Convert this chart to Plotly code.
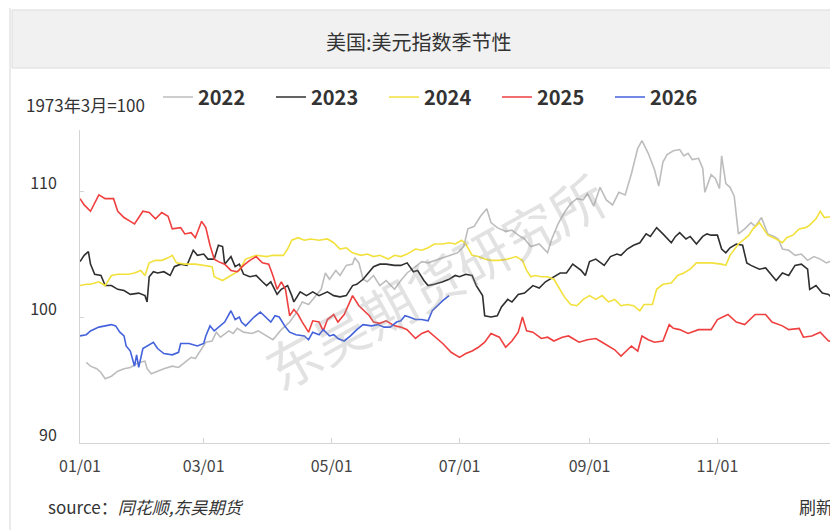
import plotly.graph_objects as go
import pandas as pd

# ---------------- data (day offset from Jan 1, index value) ----------------
years = ["2022", "2023", "2024", "2025", "2026"]
colors = ["#bdbdbd", "#2f2f2f", "#f2e13c", "#ef3f3f", "#4462dc"]

days_2022 = [3, 5, 8, 10, 12, 15, 18, 21, 24, 28, 31, 32, 34, 37, 40, 44, 47, 50, 53, 55, 58, 60, 63, 65, 67, 71, 73,
             75, 78, 82, 85, 88, 92, 94, 96, 98, 100, 103, 106, 109, 112, 115, 117, 119, 122, 124, 127, 130, 131, 133,
             135, 137, 140, 143, 146, 150, 153, 156, 160, 163, 166, 171, 176, 180, 183, 185, 188, 191, 194, 196, 199,
             203, 206, 209, 212, 215, 219, 223, 225, 228, 231, 234, 237, 240, 242, 245, 248, 251, 254, 257, 260, 263,
             266, 268, 271, 274, 276, 278, 280, 283, 286, 288, 290, 292, 295, 297, 298, 301, 303, 305, 306, 308, 310,
             312, 314, 317, 320, 322, 325, 328, 331, 333, 335, 338, 341, 344, 347, 350, 353, 356, 359, 363]
vals_2022 = [96.4, 96.1, 95.9, 95.6, 95.1, 95.3, 95.7, 95.9, 96.0, 96.4, 96.5, 95.9, 95.5, 95.7, 95.9, 96.1, 96.0, 96.4,
             96.8, 96.7, 97.5, 98.0, 98.1, 98.8, 98.4, 98.9, 98.7, 99.1, 98.8, 98.7, 98.9, 98.6, 98.2, 98.6, 99.0, 99.3,
             99.6, 100.3, 101.2, 101.0, 101.6, 102.2, 103.5, 103.0, 103.7, 103.3, 104.1, 104.2, 104.7, 104.3, 103.0,
             102.8, 103.3, 102.5, 102.9, 102.2, 102.9, 103.5, 104.0, 104.4, 104.3, 104.6, 104.9, 105.1, 105.6, 107.0,
             107.2, 108.0, 108.6, 107.5, 107.1, 106.8, 106.9, 106.5, 106.2, 105.6, 105.8, 105.1, 106.2, 107.4, 108.3,
             109.0, 109.4, 109.3, 109.8, 108.8, 110.3, 109.3, 108.9, 109.9, 109.7, 111.4, 113.4, 114.0, 113.0, 111.7,
             110.4, 112.3, 112.9, 113.2, 113.3, 112.8, 113.0, 112.5, 112.6, 111.8, 109.9, 111.3, 111.0, 110.2, 112.8,
             110.6, 110.3, 109.6, 106.6, 107.0, 107.5, 107.2, 107.9, 106.6, 106.4, 106.2, 105.4, 105.3, 104.9, 105.0,
             104.5, 104.8, 104.6, 104.3, 104.5, 104.4]

days_2023 = [0, 2, 4, 5, 7, 10, 12, 15, 18, 21, 24, 28, 31, 32, 33, 35, 37, 40, 43, 45, 48, 51, 54, 56, 59, 61, 64, 66,
             68, 69, 72, 74, 76, 78, 81, 84, 87, 89, 91, 94, 96, 99, 101, 102, 105, 108, 111, 114, 118, 121, 124, 127,
             130, 132, 135, 138, 140, 143, 146, 150, 153, 156, 159, 161, 164, 166, 169, 173, 176, 179, 181, 184, 187,
             189, 192, 193, 196, 199, 201, 204, 206, 209, 212, 216, 219, 222, 226, 229, 232, 235, 239, 241, 243, 246,
             250, 253, 256, 258, 261, 264, 267, 270, 272, 275, 278, 282, 284, 286, 289, 291, 294, 297, 299, 301, 304,
             306, 308, 310, 313, 316, 318, 320, 324, 327, 330, 332, 335, 338, 341, 344, 347, 348, 351, 354, 357, 360, 363]
vals_2023 = [104.4, 104.9, 105.2, 104.2, 103.4, 103.3, 102.5, 102.5, 102.2, 102.1, 101.8, 101.9, 101.7, 101.2, 103.2,
             103.6, 103.5, 103.6, 103.3, 104.0, 104.2, 104.1, 105.3, 104.9, 105.0, 104.6, 104.6, 105.7, 105.6, 104.2,
             104.8, 104.0, 104.2, 103.4, 103.2, 103.3, 102.8, 102.5, 102.8, 101.8, 102.2, 102.5, 101.7, 101.2, 102.0,
             101.7, 102.0, 101.7, 102.0, 101.7, 101.6, 101.7, 102.5, 102.6, 103.0, 103.6, 104.0, 104.2, 104.2, 104.1,
             104.1, 104.3, 103.6, 103.7, 102.9, 102.5, 102.6, 102.8, 103.0, 103.3, 103.2, 103.4, 103.3, 102.5, 101.7,
             100.1, 100.0, 100.1, 100.8, 101.4, 101.2, 101.8, 101.9, 102.5, 102.3, 102.8, 103.2, 103.5, 103.5, 104.2,
             103.7, 103.3, 104.4, 104.6, 104.1, 104.8, 105.0, 104.9, 105.4, 105.7, 105.9, 106.6, 106.4, 107.1, 106.6,
             105.9, 106.4, 106.7, 106.2, 106.4, 105.8, 106.4, 106.6, 106.5, 106.5, 105.4, 105.1, 105.5, 105.8, 105.7,
             104.3, 104.1, 103.8, 103.9, 103.3, 102.9, 103.5, 103.3, 104.1, 104.2, 103.8, 102.2, 102.5, 101.9, 101.8,
             101.3, 101.6]

days_2024 = [0, 3, 5, 9, 12, 15, 18, 23, 26, 29, 31, 33, 36, 39, 42, 44, 46, 50, 55, 60, 63, 64, 68, 71, 74, 76, 79,
             84, 89, 92, 97, 99, 101, 104, 107, 110, 114, 118, 121, 124, 127, 130, 134, 137, 140, 143, 147, 150, 153,
             156, 160, 163, 166, 169, 173, 176, 179, 182, 184, 187, 190, 193, 196, 200, 204, 208, 211, 213, 215, 217,
             220, 223, 226, 228, 231, 234, 237, 240, 243, 246, 249, 252, 255, 258, 261, 264, 267, 269, 273, 275, 278,
             282, 285, 288, 291, 294, 297, 301, 306, 308, 310, 312, 314, 317, 319, 321, 324, 326, 328, 332, 335, 337,
             340, 343, 346, 348, 351, 353, 355, 359, 363]
vals_2024 = [102.5, 102.6, 102.6, 102.8, 102.5, 103.3, 103.4, 103.4, 103.5, 103.7, 103.3, 104.3, 104.5, 104.5, 104.7,
             104.9, 104.3, 104.2, 104.2, 104.1, 104.0, 103.2, 102.9, 103.2, 103.5, 103.7, 104.6, 104.9, 104.8, 104.9,
             104.9, 105.4, 106.1, 106.3, 106.1, 106.2, 106.1, 106.2, 105.9, 105.4, 105.5, 105.1, 104.9, 105.0, 104.8,
             104.9, 104.6, 104.9, 104.8, 105.0, 105.4, 105.3, 105.5, 105.8, 105.8, 105.9, 105.8, 106.1, 105.8, 104.9,
             104.8, 104.6, 104.5, 104.5, 104.6, 104.8, 104.5, 103.7, 103.2, 103.3, 103.2, 103.2, 103.0, 102.4, 101.6,
             101.0, 100.9, 101.4, 101.7, 101.4, 101.7, 101.2, 101.4, 100.9, 101.0, 100.9, 100.5, 101.0, 101.0, 102.2,
             102.6, 102.7, 103.3, 103.5, 103.8, 104.3, 104.3, 104.3, 104.2, 104.1, 104.9, 105.4, 105.8, 106.2, 106.5,
             107.0, 107.5, 107.0, 106.5, 106.2, 105.9, 106.3, 106.5, 107.0, 107.1, 107.3, 107.8, 108.4, 107.9, 108.0,
             107.9]

days_2025 = [0, 2, 5, 9, 12, 16, 18, 21, 24, 26, 30, 33, 36, 39, 42, 44, 48, 50, 53, 55, 58, 60, 62, 64, 66, 69, 72,
             75, 78, 81, 84, 87, 90, 92, 94, 96, 98, 100, 102, 104, 106, 109, 111, 114, 116, 118, 121, 123, 126, 128,
             130, 133, 135, 138, 140, 143, 146, 150, 153, 156, 160, 163, 166, 169, 173, 177, 181, 184, 187, 190, 193,
             196, 200, 203, 206, 209, 211, 213, 216, 220, 223, 226, 230, 233, 238, 242, 246, 249, 252, 255, 258, 261,
             263, 266, 268, 271, 274, 278, 281, 283, 286, 290, 295, 301, 304, 309, 313, 317, 322, 327, 330, 335, 338,
             343, 345, 349, 353, 357, 363]
vals_2025 = [109.4, 108.9, 108.4, 109.7, 109.4, 109.4, 108.4, 107.9, 107.6, 107.4, 108.4, 108.3, 107.8, 108.3, 108.0,
             107.0, 107.1, 106.6, 106.7, 106.3, 107.6, 107.1, 105.7, 104.6, 104.4, 104.2, 103.7, 103.6, 104.1, 104.5,
             104.8, 104.3, 104.2, 103.3, 102.2, 102.8, 102.2, 100.1, 100.6, 100.2, 99.6, 98.8, 99.7, 99.6, 98.9, 99.8,
             100.2, 99.6, 100.2, 101.0, 101.7, 100.9, 100.6, 100.1, 99.6, 99.5, 99.7, 99.3, 99.2, 99.0, 98.3, 98.7,
             98.9, 98.5, 97.9, 97.2, 96.8, 97.1, 97.3, 97.6, 98.0, 98.7, 98.4, 97.6, 98.1, 98.8, 100.0, 98.9, 98.8,
             98.3, 98.4, 98.1, 98.4, 98.5, 98.0, 98.2, 98.3, 98.0, 97.7, 97.4, 96.9, 97.4, 97.7, 97.3, 98.5, 98.2,
             98.0, 98.1, 99.4, 99.1, 99.0, 98.7, 99.0, 99.0, 99.8, 100.2, 99.6, 99.4, 100.2, 100.2, 99.6, 99.3, 99.0,
             99.1, 98.4, 98.5, 98.8, 98.1, 98.1]

days_2026 = [0, 3, 5, 9, 12, 15, 17, 19, 21, 22, 24, 26, 27, 28, 30, 32, 35, 37, 40, 44, 47, 48, 52, 56, 59, 60, 62,
             64, 67, 69, 72, 74, 76, 77, 79, 83, 86, 88, 91, 93, 95, 98, 100, 103, 107, 109, 111, 114, 116, 119, 121,
             123, 126, 129, 132, 135, 139, 142, 145, 148, 151, 153, 155, 157, 160, 163, 166, 168, 171, 173, 176]
vals_2026 = [98.5, 98.6, 98.9, 99.2, 99.3, 99.4, 99.3, 98.8, 98.5, 97.7, 97.3, 96.1, 97.0, 96.0, 97.5, 97.7, 98.0,
             97.5, 97.1, 97.0, 97.2, 97.9, 97.9, 97.7, 97.9, 98.5, 99.3, 98.9, 99.3, 99.6, 100.5, 99.8, 100.0, 99.6,
             99.3, 100.0, 100.4, 100.1, 99.6, 100.1, 100.0, 99.2, 98.8, 98.6, 98.5, 98.2, 98.8, 98.6, 99.0, 98.5, 98.6,
             98.3, 98.1, 98.5, 99.0, 99.4, 99.3, 99.4, 99.2, 99.2, 99.6, 99.7, 100.1, 100.0, 99.8, 99.8, 99.7, 100.5,
             101.0, 101.3, 101.7]

series_days = [days_2022, days_2023, days_2024, days_2025, days_2026]
series_vals = [vals_2022, vals_2023, vals_2024, vals_2025, vals_2026]

x_tick_dates = ["2021-01-01", "2021-03-01", "2021-05-01", "2021-07-01", "2021-09-01", "2021-11-01"]
x_tick_labels = ["01/01", "03/01", "05/01", "07/01", "09/01", "11/01"]
y_tick_vals = [90, 100, 110]

title_text = "美国:美元指数季节性"
unit_text = "1973年3月=100"
source_text = "source：<i>同花顺,东吴期货</i>"
refresh_text = "刷新"
watermark_text = "东吴期货研究所"

# ---------------- layout geometry ----------------
# the page body has an 8px margin, so the figure is sized to the visible window area
OFF = 8
W, H = 838 - OFF, 530 - OFF
L, R, T, B = 80 - OFF, 0, 130 - OFF, 530 - 443
PW, PH = W - L - R, H - T - B
FONT = "Noto Sans CJK SC, Noto Sans, sans-serif"


def px_x(p):
    """page pixel x -> paper x"""
    return (p - OFF - L) / PW


def px_y(p):
    """page pixel y -> paper y"""
    return (H - B - (p - OFF)) / PH


base = pd.Timestamp("2021-01-01")

fig = go.Figure()
for name, col, d, v in zip(years, colors, series_days, series_vals):
    fig.add_trace(go.Scatter(
        x=[base + pd.Timedelta(days=k) for k in d], y=v, name=name, mode="lines",
        line=dict(color=col, width=1.6)))

shapes = [
    # left frame line
    dict(type="line", xref="paper", yref="paper", x0=px_x(10), x1=px_x(10), y0=px_y(OFF), y1=px_y(530),
         line=dict(color="#d6d6d6", width=1)),
    # title bar
    dict(type="rect", xref="paper", yref="paper", x0=px_x(12), x1=px_x(845), y0=px_y(68), y1=px_y(10),
         fillcolor="#f1f1f1", line=dict(color="#dcdcdc", width=1), layer="below"),
]

annotations = [
    dict(text=title_text, xref="paper", yref="paper", x=px_x(419), y=px_y(42), showarrow=False,
         font=dict(size=20, color="#333333", family=FONT), xanchor="center", yanchor="middle"),
    dict(text=unit_text, xref="paper", yref="paper", x=px_x(24), y=px_y(104), showarrow=False,
         font=dict(size=17, color="#333333", family=FONT), xanchor="left", yanchor="middle"),
    dict(text=source_text, xref="paper", yref="paper", x=px_x(46), y=px_y(506), showarrow=False,
         font=dict(size=17, color="#333333", family=FONT), xanchor="left", yanchor="middle"),
    dict(text=refresh_text, xref="paper", yref="paper", x=px_x(797), y=px_y(506), showarrow=False,
         font=dict(size=17, color="#333333", family=FONT), xanchor="left", yanchor="middle"),
    dict(text=watermark_text, xref="paper", yref="paper", x=px_x(434), y=px_y(280), showarrow=False,
         textangle=-29, font=dict(size=54, color="rgba(150,150,150,0.28)", family=FONT),
         xanchor="center", yanchor="middle"),
]

fig.update_layout(
    width=W, height=H, margin=dict(l=L, r=R, t=T, b=B),
    paper_bgcolor="white", plot_bgcolor="white",
    font=dict(family=FONT, color="#333333"),
    shapes=shapes, annotations=annotations,
    legend=dict(orientation="h", x=px_x(158), y=px_y(97), xanchor="left", yanchor="middle",
                font=dict(size=20, color="#333333", family=FONT, weight="bold"),
                bgcolor="rgba(0,0,0,0)", itemwidth=30, entrywidth=68, entrywidthmode="pixels"),
    xaxis=dict(type="date", range=[base, base + pd.Timedelta(days=361.5)],
               tickvals=x_tick_dates, ticktext=x_tick_labels,
               showline=True, linecolor="#d4d4d4", linewidth=1, showgrid=False, zeroline=False,
               ticks="inside", ticklen=5, tickcolor="#d4d4d4",
               tickfont=dict(size=16, color="#444444", family=FONT), ticklabelstandoff=9),
    yaxis=dict(range=[90, 114.85], tickvals=y_tick_vals,
               showline=True, linecolor="#d4d4d4", linewidth=1, showgrid=False, zeroline=False,
               ticks="inside", ticklen=4, tickcolor="#d4d4d4",
               tickfont=dict(size=16, color="#333333", family=FONT),
               ticklabelshift=-8, ticklabelstandoff=19),
)

fig.write_html("out.html")
